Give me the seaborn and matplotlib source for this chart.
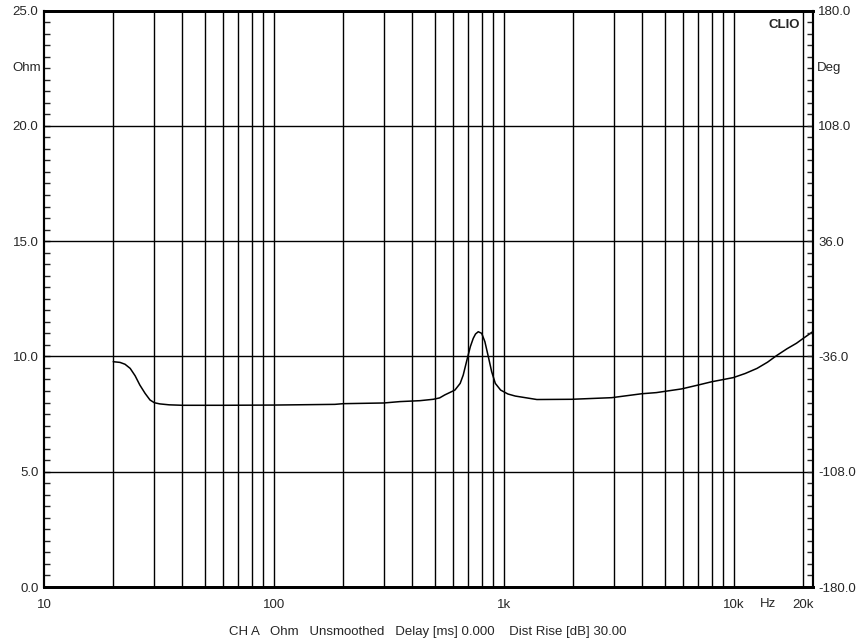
import numpy as np
import pandas as pd
import matplotlib
matplotlib.use("Agg")
import matplotlib.pyplot as plt
import seaborn as sns
from matplotlib.ticker import FixedLocator, NullFormatter

# impedance curve (Hz, Ohm)
freq_hz = [20, 21.4, 22.5, 23.7, 24.9, 26.1, 27.5, 28.9, 30.2, 31.9, 35, 40, 60,
           100, 184, 200, 300, 353, 431, 493, 525, 553, 612, 645, 665, 690, 714,
           735, 752, 773, 800, 826, 855, 884, 917, 967, 1040, 1120, 1390, 1970,
           2940, 3970, 4600, 5920, 7000, 8000, 9930, 11200, 12600, 14000, 15300,
           17000, 18700, 20000, 22000]
impedance_ohm = [9.77, 9.74, 9.66, 9.48, 9.16, 8.76, 8.40, 8.11, 7.99, 7.94, 7.90,
                 7.88, 7.88, 7.89, 7.92, 7.95, 7.98, 8.04, 8.08, 8.14, 8.20, 8.33,
                 8.54, 8.83, 9.19, 9.84, 10.42, 10.78, 10.97, 11.07, 11.00, 10.64,
                 9.99, 9.34, 8.83, 8.54, 8.37, 8.28, 8.13, 8.14, 8.21, 8.38, 8.43,
                 8.59, 8.76, 8.90, 9.08, 9.26, 9.48, 9.75, 10.03, 10.33, 10.57,
                 10.78, 11.07]

grid_freqs = [20, 30, 40, 50, 60, 70, 80, 90, 100, 200, 300, 400, 500, 600, 700,
              800, 900, 1000, 2000, 3000, 4000, 5000, 6000, 7000, 8000, 9000,
              10000, 20000]
x_tick_vals = [10, 100, 1000, 10000, 20000]
x_tick_labels = ["10", "100", "1k", "10k", "20k"]
ohm_ticks = [0, 5, 10, 15, 20, 25]
deg_ticks = [-180, -108, -36, 36, 108, 180]

df = pd.DataFrame({"freq": freq_hz, "ohm": impedance_ohm})

sns.set_style("white")
plt.rcParams["font.family"] = ["Liberation Sans", "DejaVu Sans"]
fs = 9.5

fig = plt.figure(figsize=(8.63, 6.42), dpi=100)
ax = fig.add_axes([44 / 863, 55 / 642, (812.7 - 44) / 863, (587 - 10.5) / 642])

for f in grid_freqs:
    ax.axvline(f, color="black", lw=1.0, zorder=1)
for v in [5, 10, 15, 20]:
    ax.axhline(v, color="black", lw=1.0, zorder=1)

sns.lineplot(data=df, x="freq", y="ohm", ax=ax, color="black", lw=1.1, zorder=3)

ax.set_xscale("log")
ax.set_xlim(10, 22000)
ax.set_ylim(0, 25)
ax.set_xlabel("")
ax.set_ylabel("")

ax.xaxis.set_major_locator(FixedLocator(x_tick_vals))
ax.set_xticklabels(x_tick_labels, fontsize=fs)
ax.xaxis.set_minor_locator(FixedLocator([]))
ax.xaxis.set_minor_formatter(NullFormatter())
ax.tick_params(axis="x", length=0, pad=9)

ax.set_yticks(ohm_ticks)
ax.set_yticklabels([f"{v:.1f}" for v in ohm_ticks], fontsize=fs)
ax.yaxis.set_minor_locator(FixedLocator(np.arange(0, 25.01, 0.5)))
ax.tick_params(axis="y", which="both", direction="in", length=4, width=1, pad=4)

ax2 = ax.twinx()
ax2.set_ylim(-180, 180)
ax2.set_yticks(deg_ticks)
ax2.set_yticklabels([f"{v:.1f}" for v in deg_ticks], fontsize=fs)
ax2.yaxis.set_minor_locator(FixedLocator(np.arange(-180, 180.01, 7.2)))
ax2.tick_params(axis="y", which="both", direction="in", length=4, width=1, pad=4)

for a in (ax, ax2):
    for side in ("left", "right"):
        a.spines[side].set_linewidth(1.5)
        a.spines[side].set_color("black")
    for side in ("top", "bottom"):
        a.spines[side].set_linewidth(2.0)
        a.spines[side].set_color("black")

ax.text(-0.004, 22.5, "Ohm", transform=ax.get_yaxis_transform(), ha="right",
        va="center", fontsize=fs)
ax2.text(1.006, 144, "Deg", transform=ax2.get_yaxis_transform(), ha="left",
         va="center", fontsize=fs)
ax.text(768 / 863, 1 - 604 / 642, "Hz", transform=fig.transFigure,
        ha="center", va="center", fontsize=fs)
ax.text(0.983, 0.975, "CLIO", transform=ax.transAxes, ha="right", va="center",
        fontsize=fs, fontweight="bold", zorder=5,
        bbox=dict(facecolor="white", edgecolor="none", pad=1.5))

fig.text(428 / 863, 1 - 632 / 642,
         "CH A   Ohm   Unsmoothed   Delay [ms] 0.000    Dist Rise [dB] 30.00",
         ha="center", va="center", fontsize=fs)

fig.savefig("out.png", dpi=100, facecolor="white")
